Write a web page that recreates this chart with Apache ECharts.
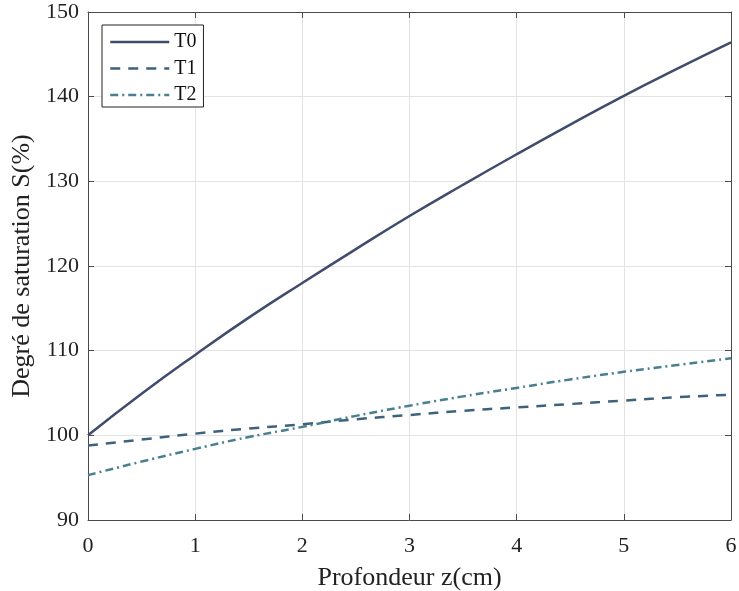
<!DOCTYPE html>
<html><head><meta charset="utf-8">
<script src="https://cdn.jsdelivr.net/npm/echarts@6/dist/echarts.min.js"></script>
<style>html,body{margin:0;padding:0;background:#fff}#c{width:739px;height:591px}</style>
</head><body><div id="c"></div>
<script>
const xs = [0, 0.5, 1, 1.5, 2, 2.5, 3, 3.5, 4, 4.5, 5, 5.5, 6];
const T0 = [100, 104.9, 109.5, 113.9, 118.0, 122.0, 125.9, 129.6, 133.2, 136.7, 140.1, 143.3, 146.4];
const T1 = [98.8, 99.5, 100.2, 100.8, 101.3, 101.9, 102.4, 102.9, 103.3, 103.7, 104.1, 104.5, 104.8];
const T2 = [95.3, 96.9, 98.4, 99.8, 101.0, 102.3, 103.5, 104.6, 105.6, 106.6, 107.5, 108.3, 109.1];
const xTicks = [0, 1, 2, 3, 4, 5, 6];
const yTicks = [90, 100, 110, 120, 130, 140, 150];

const font = 'Liberation Serif';
const axisCol = '#4a4a4a';
const pair = a => xs.map((x, i) => [x, a[i]]);
const chart = echarts.init(document.getElementById('c'));
const baseAxis = {
  axisLine: {show: true, onZero: false, lineStyle: {color: axisCol, width: 1}},
  axisTick: {show: true, inside: true, length: 6, lineStyle: {color: axisCol}},
  splitLine: {show: true, lineStyle: {color: '#e3e3e3', width: 1}},
  axisLabel: {color: '#222', fontFamily: font, fontSize: 22}
};
chart.setOption({
  animation: false,
  textStyle: {fontFamily: font},
  grid: {left: 88, right: 8, top: 12, bottom: 71, containLabel: false, outerBoundsMode: 'none'},
  legend: {
    left: 102, top: 25, orient: 'vertical',
    data: ['T0', 'T1', 'T2'],
    itemWidth: 59, itemHeight: 20, itemGap: 6.5,
    padding: [7, 7, 2, 7],
    borderColor: '#222', borderWidth: 1, backgroundColor: '#fff',
    itemStyle: {opacity: 0, color: 'transparent', borderWidth: 0},
    lineStyle: {width: 2.5},
    textStyle: {fontFamily: font, fontSize: 20, color: '#111'}
  },
  xAxis: [
    Object.assign({}, baseAxis, {type: 'value', min: 0, max: 6, interval: 1,
      name: 'Profondeur z(cm)', nameLocation: 'middle', nameGap: 45,
      nameTextStyle: {fontFamily: font, fontSize: 26, color: '#222'},
      axisLabel: Object.assign({}, baseAxis.axisLabel, {margin: 15})}),
    Object.assign({}, baseAxis, {type: 'value', min: 0, max: 6, interval: 1, position: 'top',
      axisLabel: {show: false}, splitLine: {show: false}})
  ],
  yAxis: [
    Object.assign({}, baseAxis, {type: 'value', min: 90, max: 150, interval: 10,
      name: 'Degré de saturation S(%)', nameLocation: 'middle', nameGap: 50,
      nameTextStyle: {fontFamily: font, fontSize: 26, color: '#222'},
      axisLabel: Object.assign({}, baseAxis.axisLabel, {margin: 9})}),
    Object.assign({}, baseAxis, {type: 'value', min: 90, max: 150, interval: 10, position: 'right',
      axisLabel: {show: false}, splitLine: {show: false}})
  ],
  series: [
    {name: 'T0', type: 'line', data: pair(T0), smooth: true, showSymbol: false,
      lineStyle: {color: '#3f4c6b', width: 2.5}, itemStyle: {color: '#3f4c6b'}},
    {name: 'T1', type: 'line', data: pair(T1), smooth: true, showSymbol: false,
      lineStyle: {color: '#3e627c', width: 2.5, type: [10, 8]}, itemStyle: {color: '#3e627c'}},
    {name: 'T2', type: 'line', data: pair(T2), smooth: true, showSymbol: false,
      lineStyle: {color: '#4a7f8e', width: 2.5, type: [8, 4, 2, 4]}, itemStyle: {color: '#4a7f8e'}}
  ]
});
</script></body></html>
